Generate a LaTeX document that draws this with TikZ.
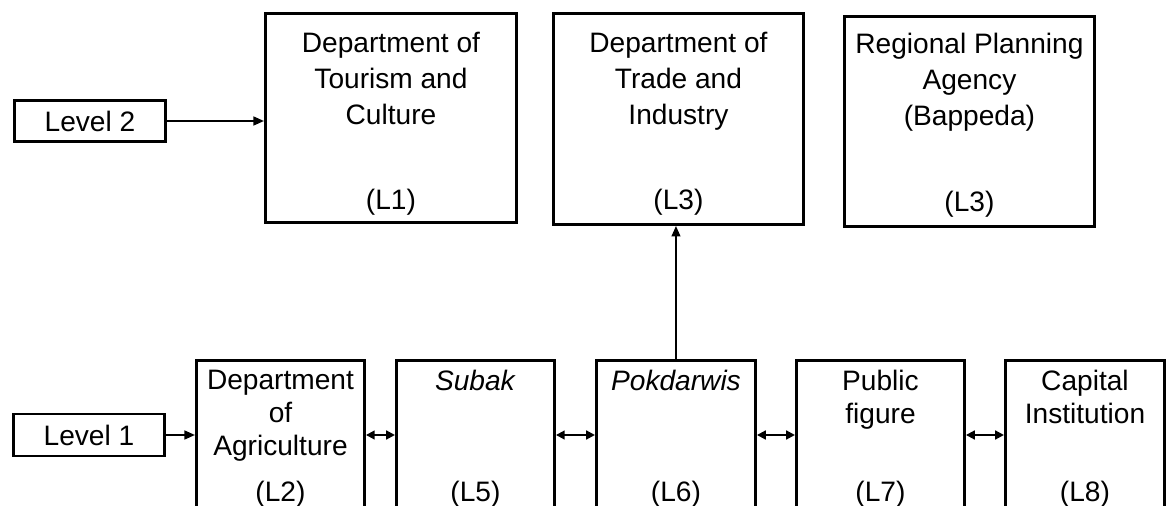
\documentclass[tikz,border=0pt]{standalone}
\usepackage{fontspec}
\setmainfont{Liberation Sans}
\usepackage{tikz}
\usetikzlibrary{positioning}
\usetikzlibrary{arrows.meta}

\tikzset{
  box/.style={draw, line width=1.7pt, inner sep=0pt, anchor=north west},
  lvlbox/.style={draw, line width=1.7pt, minimum width=3.02cm, minimum height=0.82cm, inner sep=0pt, font=\fontsize{16}{20}\selectfont},
  txttop/.style={align=center, inner sep=0pt, font=\fontsize{16}{20.5}\selectfont},
  txtbot/.style={align=center, inner sep=0pt, font=\fontsize{16}{18.8}\selectfont},
  lab/.style={inner sep=0pt, font=\fontsize{16}{18.8}\selectfont},
  arr/.style={-{Triangle[length=6pt,width=5pt]}, line width=1.15pt},
  dbl/.style={{Triangle[length=5pt,width=5pt]}-{Triangle[length=5pt,width=5pt]}, line width=1.15pt}
}

\begin{document}
\begin{tikzpicture}[x=0.02cm, y=-0.02cm]

\useasboundingbox (0,0) rectangle (1166,506);

%---------------------------------------
% Level 2
%---------------------------------------
\node[lvlbox] (lev2) at (90,121) {Level 2};

\node[box, minimum width=5.02cm, minimum height=4.18cm] (tour) at (264,12) {};
\node[txttop, below=0.4cm of tour.north] (tourtxt) {Department of\\Tourism and\\Culture};
\node[lab] (tourL) at ([yshift=0.44cm]tour.south) {(L1)};

\node[box, minimum width=5cm, minimum height=4.22cm] (trade) at (552,12) {};
\node[txttop, below=0.4cm of trade.north] (tradetxt) {Department of\\Trade and\\Industry};
\node[lab] (tradeL) at ([yshift=0.48cm]trade.south) {(L3)};

\node[box, minimum width=5cm, minimum height=4.2cm] (bapp) at (843,15) {};
\node[txttop, below=0.36cm of bapp.north] (bapptxt) {Regional Planning\\Agency\\(Bappeda)};
\node[lab] (bappL) at ([yshift=0.48cm]bapp.south) {(L3)};

\draw[arr] (lev2.east) -- (tour.west |- lev2.east);

%---------------------------------------
% Level 1
%---------------------------------------
\node[lvlbox, minimum height=0.84cm] (lev1) at (89,435) {Level 1};

\node[box, minimum width=3.36cm, minimum height=3.62cm] (agri) at (195,359) {};
\node[txtbot, below=0.22cm of agri.north] (agritxt) {Department\\of\\Agriculture};
\node[lab] (agriL) at ([yshift=-2.7cm]agri.north) {(L2)};

\node[box, minimum width=3.16cm, minimum height=3.62cm] (subak) at (395,359) {};
\node[txtbot, below=0.22cm of subak.north] (subaktxt) {\textit{Subak}};
\node[lab] (subakL) at ([yshift=-2.7cm]subak.north) {(L5)};

\node[box, minimum width=3.18cm, minimum height=3.62cm] (pokd) at (595,359) {};
\node[txtbot, below=0.22cm of pokd.north] (pokdtxt) {\textit{Pokdarwis}};
\node[lab] (pokdL) at ([yshift=-2.7cm]pokd.north) {(L6)};

\node[box, minimum width=3.36cm, minimum height=3.62cm] (pub) at (795,359) {};
\node[txtbot, below=0.22cm of pub.north] (pubtxt) {Public\\figure};
\node[lab] (pubL) at ([yshift=-2.7cm]pub.north) {(L7)};

\node[box, minimum width=3.18cm, minimum height=3.62cm] (cap) at (1004,359) {};
\node[txtbot, below=0.22cm of cap.north] (captxt) {Capital\\Institution};
\node[lab] (capL) at ([yshift=-2.7cm]cap.north) {(L8)};

\draw[arr] (lev1.east) -- (agri.west |- lev1.east);

% links between actors
\foreach \a/\b in {agri/subak, subak/pokd, pokd/pub, pub/cap}{
  \draw[dbl] (\a.east |- lev1.east) -- (\b.west |- lev1.east);
}

% Pokdarwis up to Level 2
\draw[arr] (pokd.north) -- (pokd.north |- trade.south);

\end{tikzpicture}
\end{document}
